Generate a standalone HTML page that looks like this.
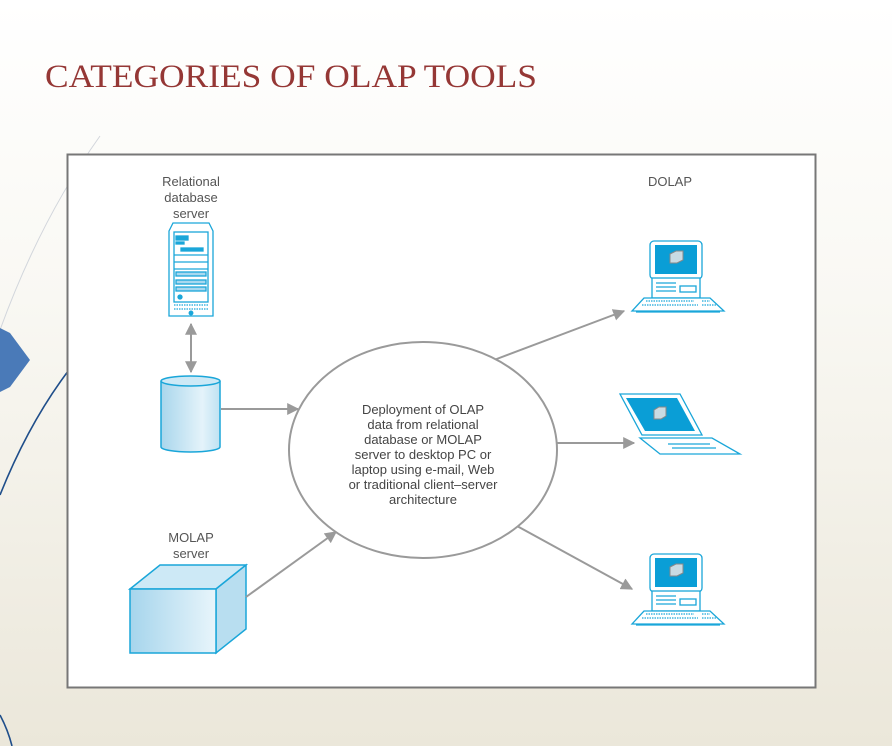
<!DOCTYPE html>
<html><head><meta charset="utf-8"><style>
html,body{margin:0;padding:0;width:892px;height:746px;overflow:hidden}
</style></head><body>
<svg width="892" height="746" viewBox="0 0 892 746" xmlns="http://www.w3.org/2000/svg" font-family="Liberation Sans, sans-serif">
<defs>
<linearGradient id="bg" x1="0" y1="0" x2="0" y2="1">
<stop offset="0" stop-color="#ffffff"/><stop offset="0.4" stop-color="#f9f8f3"/><stop offset="1" stop-color="#ebe7da"/>
</linearGradient>
<linearGradient id="cy" x1="0" y1="0" x2="1" y2="0">
<stop offset="0" stop-color="#a9d6ec"/><stop offset="0.7" stop-color="#e4f3fa"/><stop offset="1" stop-color="#bfe2f2"/>
</linearGradient>
<linearGradient id="cf" x1="0" y1="0" x2="1" y2="0">
<stop offset="0" stop-color="#a6d5ec"/><stop offset="1" stop-color="#e8f5fb"/>
</linearGradient>
<marker id="ah" viewBox="0 0 10 10" refX="9" refY="5" markerWidth="6" markerHeight="6" orient="auto-start-reverse">
<path d="M0,0 L10,5 L0,10 z" fill="#9a9a9a"/></marker>
<g id="pc" fill="none" stroke="#1aa6d9" stroke-width="1.3">
<rect x="18" y="0" width="52" height="38" rx="4" fill="#fff"/>
<rect x="23" y="4" width="42" height="29" fill="#0a9ed6" stroke="none"/>
<path d="M38,13 l6,-3 h7 v9 l-6,3 h-7 z" fill="#c9dbe3" stroke="#888" stroke-width="1"/>
<rect x="20" y="37" width="48" height="20" fill="#fff"/>
<line x1="24" y1="42" x2="44" y2="42"/><line x1="24" y1="46" x2="44" y2="46"/><line x1="24" y1="50" x2="44" y2="50"/>
<rect x="48" y="45" width="16" height="6"/>
<path d="M12,57 H78 L92,70 H0 Z" fill="#fff"/>
<path d="M14,60 H62 M10,64 H66 M70,60 H78 M70,64 H84" stroke-dasharray="1.5 1"/>
<line x1="4" y1="71" x2="88" y2="71"/>
</g>
</defs>
<rect width="892" height="746" fill="url(#bg)"/>
<path d="M100,136 Q40,220 0,330" fill="none" stroke="#d2d6dc" stroke-width="1"/>
<path d="M0,328 L10,333 L30,360 L10,387 L0,392 Z" fill="#4a7ab8"/>
<path d="M72,366 Q30,420 0,495" fill="none" stroke="#1f4e8a" stroke-width="1.6"/>
<path d="M0,715 Q8,730 12,746" fill="none" stroke="#1f4e8a" stroke-width="1.6"/>
<text x="45" y="87" font-family="Liberation Serif, serif" font-size="33" fill="#953735" textLength="492" lengthAdjust="spacingAndGlyphs">CATEGORIES OF OLAP TOOLS</text>
<rect x="67.5" y="154.5" width="748" height="533" fill="#fff" stroke="#777" stroke-width="2"/>
<g font-size="13" fill="#555" text-anchor="middle">
<text x="191" y="186">Relational</text><text x="191" y="202">database</text><text x="191" y="218">server</text>
<text x="191" y="542">MOLAP</text><text x="191" y="558">server</text>
<text x="670" y="186">DOLAP</text>
</g>
<g fill="none" stroke="#1aa6d9" stroke-width="1.3">
<path d="M169,231 L173,223 H209 L213,231 V316 H169 Z" fill="#fff"/>
<rect x="174" y="232" width="34" height="70"/>
<rect x="176" y="236" width="12" height="4" fill="#1aa6d9"/>
<rect x="176" y="242" width="8" height="2" fill="#1aa6d9"/>
<rect x="181" y="248" width="22" height="3" fill="#1aa6d9"/>
<line x1="174" y1="255" x2="208" y2="255"/><line x1="174" y1="262" x2="208" y2="262"/><line x1="174" y1="269" x2="208" y2="269"/>
<rect x="176" y="272" width="30" height="4" fill="#a8d8ef"/><rect x="176" y="280" width="30" height="4" fill="#a8d8ef"/><rect x="176" y="287" width="30" height="4" fill="#a8d8ef"/>
<circle cx="180" cy="297" r="2" fill="#1aa6d9"/>
<path d="M174,305 H208 M174,309 H208" stroke-dasharray="1.5 1"/>
<circle cx="191" cy="313" r="1.8" fill="#1aa6d9"/>
</g>
<path d="M161,381 V447 A29.5,5 0 0 0 220,447 V381" fill="url(#cy)" stroke="#1aa6d9" stroke-width="1.5"/>
<ellipse cx="190.5" cy="381" rx="29.5" ry="5" fill="#cde9f6" stroke="#1aa6d9" stroke-width="1.5"/>
<path d="M130,589 L160,565 H246 L216,589 Z" fill="#cde9f6" stroke="#1aa6d9" stroke-width="1.5"/>
<path d="M216,589 L246,565 V629 L216,653 Z" fill="#b8def0" stroke="#1aa6d9" stroke-width="1.5"/>
<rect x="130" y="589" width="86" height="64" fill="url(#cf)" stroke="#1aa6d9" stroke-width="1.5"/>
<g stroke="#9a9a9a" stroke-width="2" fill="none">
<line x1="191" y1="324" x2="191" y2="372" marker-start="url(#ah)" marker-end="url(#ah)"/>
<line x1="221" y1="409" x2="298" y2="409" marker-end="url(#ah)"/>
<line x1="246" y1="597" x2="336" y2="532" marker-end="url(#ah)"/>
<line x1="494" y1="360" x2="624" y2="311" marker-end="url(#ah)"/>
<line x1="556" y1="443" x2="634" y2="443" marker-end="url(#ah)"/>
<line x1="517" y1="526" x2="632" y2="589" marker-end="url(#ah)"/>
</g>
<ellipse cx="423" cy="450" rx="134" ry="108" fill="#fff" stroke="#9a9a9a" stroke-width="2"/>
<g font-size="13" fill="#444" text-anchor="middle">
<text x="423" y="414">Deployment of OLAP</text>
<text x="423" y="429">data from relational</text>
<text x="423" y="444">database or MOLAP</text>
<text x="423" y="459">server to desktop PC or</text>
<text x="423" y="474">laptop using e-mail, Web</text>
<text x="423" y="489">or traditional client–server</text>
<text x="423" y="504">architecture</text>
</g>
<use href="#pc" x="632" y="241"/>
<use href="#pc" x="632" y="554"/>
<g fill="none" stroke="#1aa6d9" stroke-width="1.3">
<path d="M620,394 H680 L702,435 H642 Z" fill="#fff"/>
<path d="M626,398 H677 L695,431 H645 Z" fill="#0a9ed6" stroke="none"/>
<path d="M654,410 l5,-3 h7 v9 l-5,3 h-7 z" fill="#c9dbe3" stroke="#888" stroke-width="1"/>
<path d="M640,438 H712 L740,454 H660 Z" fill="#fff"/>
<line x1="668" y1="444" x2="710" y2="444"/><line x1="672" y1="448" x2="716" y2="448"/>
</g>
</svg>
</body></html>
